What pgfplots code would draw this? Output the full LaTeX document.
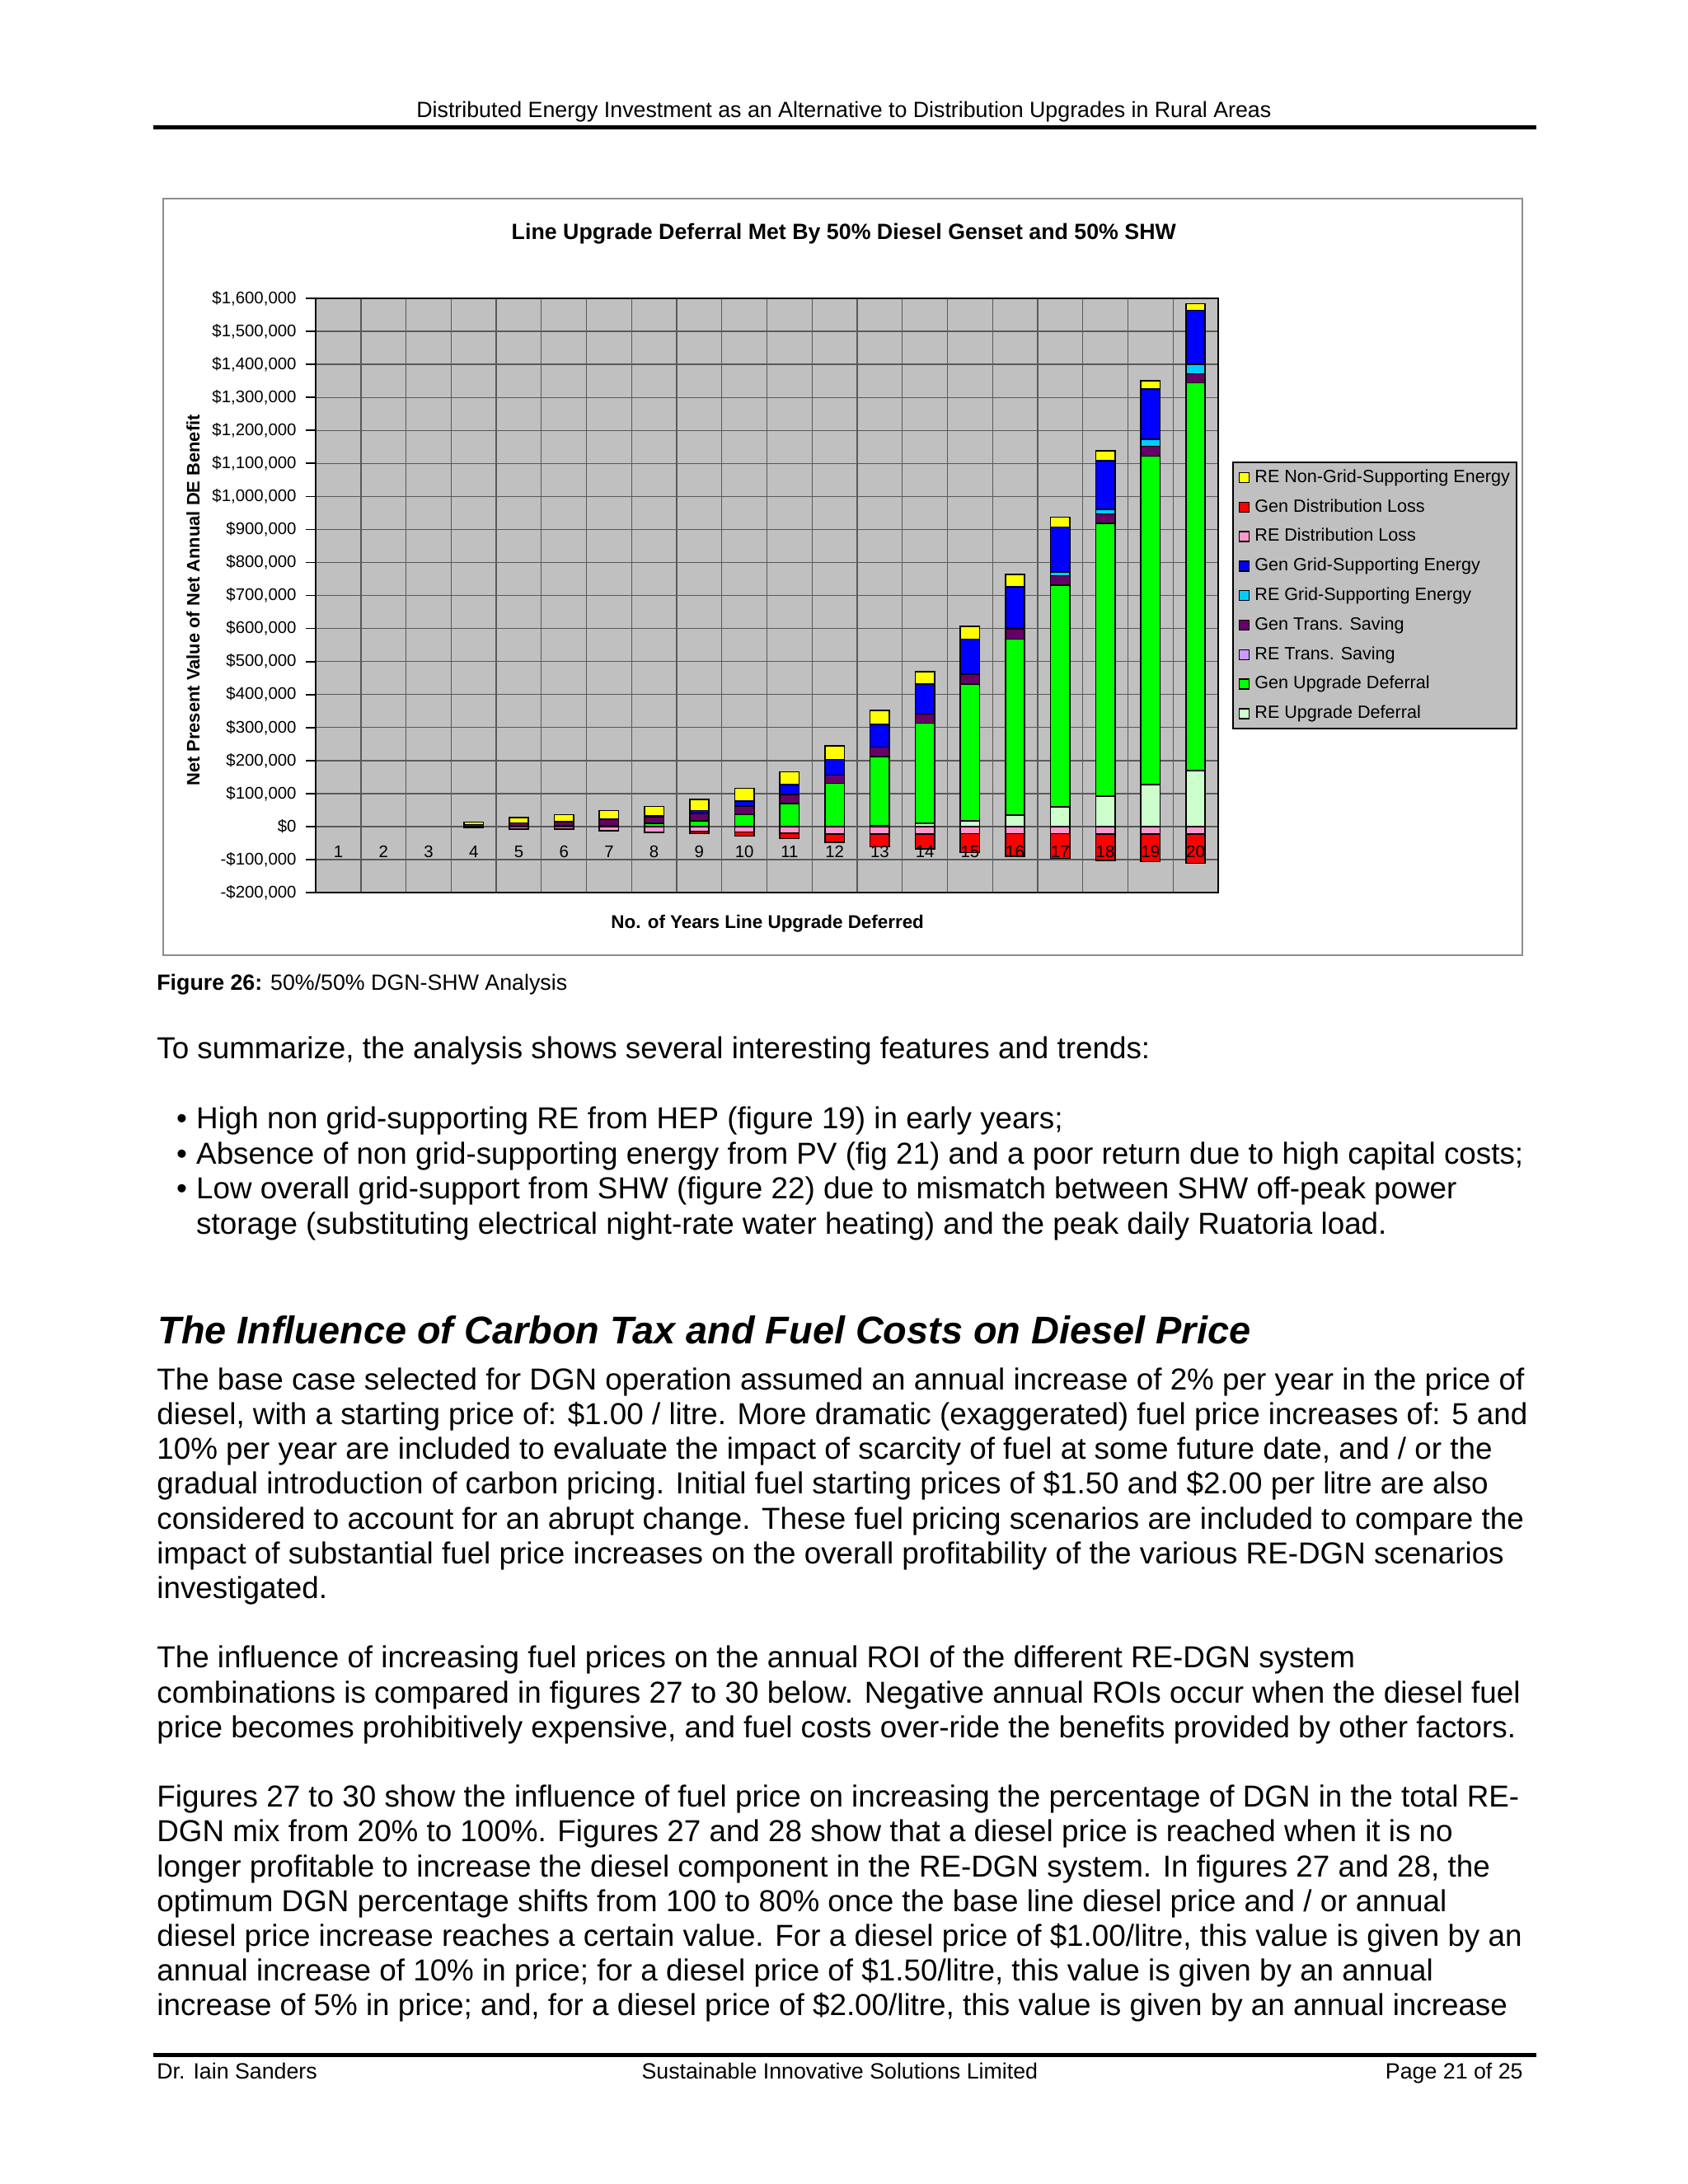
\documentclass[border=0pt]{standalone}
\usepackage{fontspec}
\setmainfont{Liberation Sans}
\usepackage{pgfplots}
\pgfplotsset{compat=1.18}
\usepackage{pgfplotstable}

\definecolor{plotgray}{HTML}{C0C0C0}
\definecolor{cYellow}{HTML}{FFFF00}
\definecolor{cRed}{HTML}{FF0000}
\definecolor{cPink}{HTML}{FF99CC}
\definecolor{cBlue}{HTML}{0000FF}
\definecolor{cCyan}{HTML}{00CCFF}
\definecolor{cPurple}{HTML}{660066}
\definecolor{cLav}{HTML}{CC99FF}
\definecolor{cGreen}{HTML}{00FF00}
\definecolor{cLtGreen}{HTML}{CCFFCC}

% NPV per segment ($), years 4-20 (years 1-3 are empty)
% negative values are stacked downward from zero on their own
\pgfplotstableread{
x  REdist Gendist REup   Genup   REtrans Gentrans REgrid Gengrid REnon
4  -2000  -1000   0      0       0       6000     0      0       8000
5  -7000  -1000   0      0       0       11000    0      0       16000
6  -7000  -1000   0      2000    0       13000    0      0       21000
7  -13000 -1000   0      3000    0       20000    0      0       26000
8  -16000 -2000   0      10000   0       20000    0      2000    29000
9  -15000 -6000   0      17000   0       23000    0      9000    33000
10 -16000 -13000  0      38000   0       24000    0      16000   38000
11 -20000 -16000  0      70000   0       27000    0      30000   39000
12 -22000 -26000  0      131000  0       25000    0      47000   42000
13 -22000 -39000  3000   209000  0       29000    0      68000   43000
14 -22000 -46000  10000  303000  0       28000    0      91000   38000
15 -21000 -58000  18000  414000  0       29000    0      107000  39000
16 -21000 -69000  35000  533000  0       30000    4000   125000  37000
17 -21000 -75000  60000  672000  0       28000    11000  136000  30000
18 -22000 -80000  93000  826000  0       28000    14000  147000  31000
19 -22000 -84000  128000 994000  0       30000    21000  153000  25000
20 -22000 -89000  169000 1175000 0       28000    28000  164000  20000
}\npv

\newcommand{\bodyfont}{\fontsize{11}{12.6}\selectfont}
\newcommand{\smallfont}{\fontsize{8}{9.6}\selectfont}

\begin{document}
\begin{tikzpicture}[x=1pt,y=1pt]
\path[use as bounding box, fill=white] (0,0) rectangle (612,-792);

% page header
\node[anchor=base, inner sep=0, font=\smallfont] at (306,-42.7)
  {Distributed Energy Investment as an Alternative to Distribution Upgrades in Rural Areas};
\draw[line width=1.5pt] (55.5,-46.2) -- (557,-46.2);

% chart frame and titles
\draw[black!45, line width=0.5pt] (59.2,-72) rectangle (552,-346.4);
\node[font=\bfseries\fontsize{8}{9.6}\selectfont] at (306,-84.9)
  {Line Upgrade Deferral Met By 50\% Diesel Genset and 50\% SHW};
\node[rotate=90, font=\bfseries\fontsize{6.55}{8}\selectfont] at (70,-217.7)
  {Net Present Value of Net Annual DE Benefit};
\node[font=\bfseries\fontsize{6.7}{8}\selectfont] at (278.3,-335)
  {No. of Years Line Upgrade Deferred};

\begin{axis}[
  at={(114.5pt,-323.7pt)}, anchor=south west,
  scale only axis, width=327.2pt, height=215.5pt,
  ybar stacked, bar width=7pt,
  xmin=0.5, xmax=20.5, ymin=-200000, ymax=1600000,
  enlargelimits=false,
  axis background/.style={fill=plotgray},
  axis line style={black, line width=0.8pt},
  xtick={1.5,2.5,...,19.5}, xticklabels={},
  x tick style={draw=none},
  xmajorgrids, ymajorgrids,
  grid style={black!65, line width=0.4pt},
  ytick={-200000,-100000,0,100000,200000,300000,400000,500000,600000,700000,800000,900000,1000000,1100000,1200000,1300000,1400000,1500000,1600000},
  yticklabels={{-\$200,000},{-\$100,000},{\$0},{\$100,000},{\$200,000},{\$300,000},{\$400,000},{\$500,000},{\$600,000},{\$700,000},{\$800,000},{\$900,000},{\$1,000,000},{\$1,100,000},{\$1,200,000},{\$1,300,000},{\$1,400,000},{\$1,500,000},{\$1,600,000}},
  scaled y ticks=false,
  ytick pos=left, tick align=outside, major tick length=3.5pt,
  y tick style={black, line width=0.5pt},
  yticklabel style={font=\fontsize{6.1}{7}\selectfont},
  legend image code/.code={\draw[#1, draw=black, line width=0.4pt] (0pt,-1.8pt) rectangle (3.6pt,1.8pt);},
  legend cell align=left,
  legend style={at={(1.0156,0.7253)}, anchor=north west, fill=plotgray, draw=black,
    line width=0.6pt, font=\fontsize{6.45}{7.5}\selectfont, row sep=3.7pt, inner sep=2pt,
    column sep=1.4pt, nodes={inner sep=0.5pt, text height=4.7pt, text depth=1.3pt}},
  every axis plot/.append style={draw=black, line width=0.5pt},
]
\addplot[fill=cPink, forget plot] table[x=x,y=REdist]{\npv};
\addplot[fill=cRed, forget plot] table[x=x,y=Gendist]{\npv};
\addplot[fill=cLtGreen, forget plot] table[x=x,y=REup]{\npv};
\addplot[fill=cGreen, forget plot] table[x=x,y=Genup]{\npv};
\addplot[fill=cLav, forget plot] table[x=x,y=REtrans]{\npv};
\addplot[fill=cPurple, forget plot] table[x=x,y=Gentrans]{\npv};
\addplot[fill=cCyan, forget plot] table[x=x,y=REgrid]{\npv};
\addplot[fill=cBlue, forget plot] table[x=x,y=Gengrid]{\npv};
\addplot[fill=cYellow, forget plot] table[x=x,y=REnon]{\npv};

\addlegendimage{fill=cYellow}\addlegendentry{RE Non-Grid-Supporting Energy}
\addlegendimage{fill=cRed}\addlegendentry{Gen Distribution Loss}
\addlegendimage{fill=cPink}\addlegendentry{RE Distribution Loss}
\addlegendimage{fill=cBlue}\addlegendentry{Gen Grid-Supporting Energy}
\addlegendimage{fill=cCyan}\addlegendentry{RE Grid-Supporting Energy}
\addlegendimage{fill=cPurple}\addlegendentry{Gen Trans. Saving}
\addlegendimage{fill=cLav}\addlegendentry{RE Trans. Saving}
\addlegendimage{fill=cGreen}\addlegendentry{Gen Upgrade Deferral}
\addlegendimage{fill=cLtGreen}\addlegendentry{RE Upgrade Deferral}
\end{axis}

% category labels, drawn on top of the bars (at y = -77,000 inside the plot)
\foreach \i in {1,...,20}
  \node[font=\fontsize{6.1}{7}\selectfont, inner sep=0] at ({114.5+(\i-0.5)*16.36},-308.97) {\i};

% caption and body text
\node[anchor=base west, inner sep=0, font=\smallfont] at (56.7,-359.2)
  {\textbf{Figure 26:} 50\%/50\% DGN-SHW Analysis};
\node[anchor=base west, inner sep=0, font=\bodyfont] at (56.7,-384)
  {To summarize, the analysis shows several interesting features and trends:};
\foreach \t [count=\i from 0] in {
  {High non grid-supporting RE from HEP (figure 19) in early years;},
  {Absence of non grid-supporting energy from PV (fig 21) and a poor return due to high capital costs;},
  {Low overall grid-support from SHW (figure 22) due to mismatch between SHW off-peak power}}
{
  \node[anchor=base west, inner sep=0, font=\bodyfont] at (63.8,-409.3-12.75*\i) {\textbullet};
  \node[anchor=base west, inner sep=0, font=\bodyfont] at (71,-409.3-12.75*\i) {\t};
}
\node[anchor=base west, inner sep=0, font=\bodyfont] at (71,-447.6)
  {storage (substituting electrical night-rate water heating) and the peak daily Ruatoria load.};

\node[anchor=base west, inner sep=0, font=\bfseries\itshape\fontsize{14}{16}\selectfont] at (57,-487.3)
  {The Influence of Carbon Tax and Fuel Costs on Diesel Price};

\foreach \t [count=\i from 0] in {
  {The base case selected for DGN operation assumed an annual increase of 2\% per year in the price of},
  {diesel, with a starting price of: \$1.00 / litre. More dramatic (exaggerated) fuel price increases of: 5 and},
  {10\% per year are included to evaluate the impact of scarcity of fuel at some future date, and / or the},
  {gradual introduction of carbon pricing. Initial fuel starting prices of \$1.50 and \$2.00 per litre are also},
  {considered to account for an abrupt change. These fuel pricing scenarios are included to compare the},
  {impact of substantial fuel price increases on the overall profitability of the various RE-DGN scenarios},
  {investigated.}}
{
  \node[anchor=base west, inner sep=0, font=\bodyfont] at (56.7,-504-12.61*\i) {\t};
}

\foreach \t [count=\i from 0] in {
  {The influence of increasing fuel prices on the annual ROI of the different RE-DGN system},
  {combinations is compared in figures 27 to 30 below. Negative annual ROIs occur when the diesel fuel},
  {price becomes prohibitively expensive, and fuel costs over-ride the benefits provided by other factors.}}
{
  \node[anchor=base west, inner sep=0, font=\bodyfont] at (56.7,-604.9-12.61*\i) {\t};
}

\foreach \t [count=\i from 0] in {
  {Figures 27 to 30 show the influence of fuel price on increasing the percentage of DGN in the total RE-},
  {DGN mix from 20\% to 100\%. Figures 27 and 28 show that a diesel price is reached when it is no},
  {longer profitable to increase the diesel component in the RE-DGN system. In figures 27 and 28, the},
  {optimum DGN percentage shifts from 100 to 80\% once the base line diesel price and / or annual},
  {diesel price increase reaches a certain value. For a diesel price of \$1.00/litre, this value is given by an},
  {annual increase of 10\% in price; for a diesel price of \$1.50/litre, this value is given by an annual},
  {increase of 5\% in price; and, for a diesel price of \$2.00/litre, this value is given by an annual increase}}
{
  \node[anchor=base west, inner sep=0, font=\bodyfont] at (56.7,-655.3-12.61*\i) {\t};
}

% page footer
\draw[line width=1.5pt] (55.5,-745.2) -- (557,-745.2);
\node[anchor=base west, inner sep=0, font=\smallfont] at (56.7,-754) {Dr. Iain Sanders};
\node[anchor=base, inner sep=0, font=\smallfont] at (304.5,-754) {Sustainable Innovative Solutions Limited};
\node[anchor=base east, inner sep=0, font=\smallfont] at (552.4,-754) {Page 21 of 25};
\end{tikzpicture}
\end{document}
